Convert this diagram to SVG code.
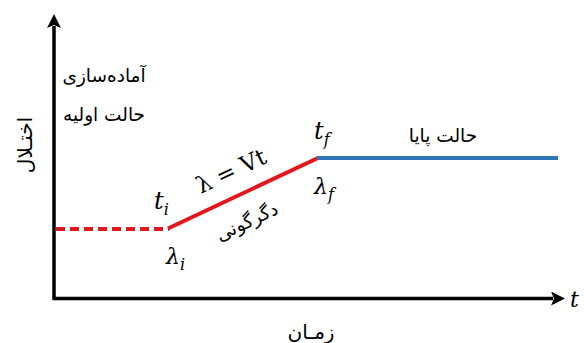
<svg xmlns="http://www.w3.org/2000/svg" width="584" height="343" viewBox="0 0 584 343">
  <defs>
    <marker id="arrow" viewBox="0 0 14 14" refX="2" refY="7" markerWidth="14" markerHeight="14" markerUnits="userSpaceOnUse" orient="auto">
      <path d="M0,0 L14,7 L0,14 L3,7 Z" fill="#000"/>
    </marker>
    <style>
      .axis { stroke: #000; stroke-width: 3.5; fill: none; }
      .fa { font-family: "DejaVu Sans", "Noto Sans", sans-serif; fill: #000; }
      .math { font-family: "DejaVu Serif", "Liberation Serif", serif; fill: #000; }
      .it { font-style: italic; }
      .red { stroke: #e3161e; stroke-width: 4; fill: none; }
      .blue { stroke: #2e75b6; stroke-width: 4; fill: none; }
    </style>
  </defs>
  <rect width="584" height="343" fill="#fff"/>

  <g id="connectors">
    <path id="y-axis" class="axis" d="M54,298.5 L54,26" marker-end="url(#arrow)"/>
    <path id="x-axis" class="axis" d="M52.5,298.5 L553,298.5" marker-end="url(#arrow)"/>
    <path id="initial" class="red" d="M56,229 L169,229" stroke-dasharray="9,5"/>
    <path id="transition" class="red" d="M168,228.5 L318,158"/>
    <path id="steady" class="blue" d="M317,158 L558,158"/>
  </g>

  <g id="axis-labels">
    <text class="fa" font-size="20" text-anchor="middle" transform="translate(32,145) rotate(-90)">اختـلال</text>
    <text class="fa" font-size="20" x="311" y="339" text-anchor="middle">زمـان</text>
    <text class="math it" font-size="22" x="570" y="307">t</text>
  </g>

  <g id="prep">
    <text class="fa" font-size="18.5" x="104" y="82" text-anchor="middle">آماده‌سازی</text>
    <text class="fa" font-size="18.5" x="104" y="121" text-anchor="middle">حالت اولیه</text>
  </g>

  <g id="start-point">
    <text class="math it" font-size="24" x="154" y="209">t<tspan font-size="16" dy="6">i</tspan></text>
    <text class="math it" font-size="22" x="166" y="264">λ<tspan font-size="16" dy="6">i</tspan></text>
  </g>

  <g id="transition-labels">
    <text class="math" font-size="23" text-anchor="middle" transform="translate(231,171) rotate(-25.3)" y="8">λ = Vt</text>
    <text class="fa" font-size="18.5" text-anchor="middle" transform="translate(247,222) rotate(-25.3)" y="6">دگرگونی</text>
  </g>

  <g id="end-point">
    <text class="math it" font-size="24" x="314" y="139">t<tspan font-size="16" dy="6">f</tspan></text>
    <text class="math it" font-size="22" x="314" y="194">λ<tspan font-size="16" dy="6">f</tspan></text>
  </g>

  <g id="steady-state">
    <text class="fa" font-size="18.5" x="443" y="142" text-anchor="middle">حالت پایا</text>
  </g>
</svg>
